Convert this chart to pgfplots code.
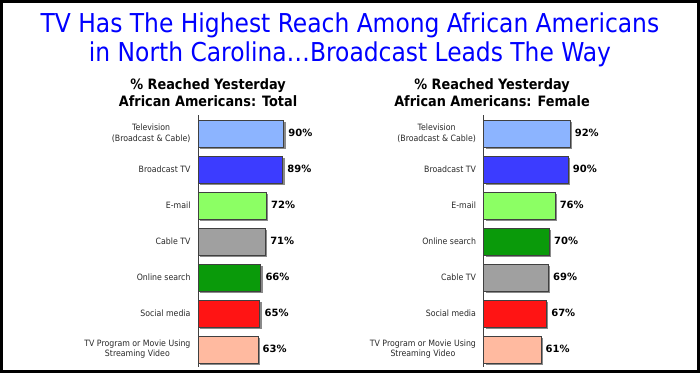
\documentclass[border=0pt]{standalone}
\usepackage{pgfplots}
\pgfplotsset{compat=1.18}
\usepackage{fontspec}
\setmainfont{DejaVu Sans}
\newfontfamily\condfont{DejaVu Sans Condensed}
\definecolor{cTV}{HTML}{8CB4FF}
\definecolor{cBTV}{HTML}{3C3CFF}
\definecolor{cMail}{HTML}{8CFF64}
\definecolor{cCable}{HTML}{A0A0A0}
\definecolor{cSearch}{HTML}{0A9A0A}
\definecolor{cSocial}{HTML}{FF1414}
\definecolor{cStream}{HTML}{FFBAA0}
\definecolor{cBorder}{HTML}{404040}
\definecolor{cShadow}{HTML}{8A8A8A}
\definecolor{cText}{HTML}{2A2A2A}
\pgfplotsset{
  panel/.style={
    scale only axis, width=95pt, height=252pt, anchor=south west,
    xmin=0, xmax=100, ymin=-0.5, ymax=6.5, y dir=reverse,
    axis x line=none, axis y line*=left,
    y axis line style={-, draw=cBorder, line width=0.8pt},
    ytick={0,1,2,3,4,5,6}, major tick length=0pt,
    yticklabel style={align=center, font=\condfont\fontsize{8.7}{10.2}\selectfont, text=cText, xshift=-4pt},
    xbar, bar width=27pt, bar shift=0pt, clip=false,
    point meta=x,
    /pgf/number format/assume math mode=true,
    nodes near coords={\pgfmathprintnumber{\pgfplotspointmeta}\%},
    nodes near coords style={font=\bfseries\fontsize{10}{12}\selectfont, text=black, anchor=west, xshift=1.2pt},
    every axis plot/.append style={draw=cBorder, line width=0.6pt,
      preaction={fill=cShadow, draw=none, transform canvas={shift={(2pt,-2pt)}}}},
  }
}
\begin{document}
\begin{tikzpicture}
\useasboundingbox (0pt,0pt) rectangle (700pt,373pt);
\fill[white] (0pt,0pt) rectangle (700pt,373pt);
\draw[line width=3pt] (1.5pt,1.5pt) rectangle (698.5pt,371.5pt);
\node[font=\condfont\fontsize{26}{28.5}\selectfont, text=blue, align=center] at (350pt,333pt) {TV Has The Highest Reach Among African Americans\\in North Carolina\ldots Broadcast Leads The Way};
\node[font=\condfont\bfseries\fontsize{14.3}{17}\selectfont, align=center] at (208pt,280pt) {\% Reached Yesterday\\African Americans: Total};
\node[font=\condfont\bfseries\fontsize{14.3}{17}\selectfont, align=center] at (492pt,280pt) {\% Reached Yesterday\\African Americans: Female};
\begin{axis}[panel, at={(198pt,5.7pt)},
  yticklabels={Television\\(Broadcast \& Cable), Broadcast TV, E-mail, Cable TV, Online search, Social media, TV Program or Movie Using\\Streaming Video}]
\addplot[fill=cTV] coordinates {(90,0)};
\addplot[fill=cBTV] coordinates {(89,1)};
\addplot[fill=cMail] coordinates {(72,2)};
\addplot[fill=cCable] coordinates {(71,3)};
\addplot[fill=cSearch] coordinates {(66,4)};
\addplot[fill=cSocial] coordinates {(65,5)};
\addplot[fill=cStream] coordinates {(63,6)};
\end{axis}
\begin{axis}[panel, at={(483.5pt,5.7pt)}, width=94pt,
  yticklabels={Television\\(Broadcast \& Cable), Broadcast TV, E-mail, Online search, Cable TV, Social media, TV Program or Movie Using\\Streaming Video}]
\addplot[fill=cTV] coordinates {(92,0)};
\addplot[fill=cBTV] coordinates {(90,1)};
\addplot[fill=cMail] coordinates {(76,2)};
\addplot[fill=cSearch] coordinates {(70,3)};
\addplot[fill=cCable] coordinates {(69,4)};
\addplot[fill=cSocial] coordinates {(67,5)};
\addplot[fill=cStream] coordinates {(61,6)};
\end{axis}
\end{tikzpicture}
\end{document}
